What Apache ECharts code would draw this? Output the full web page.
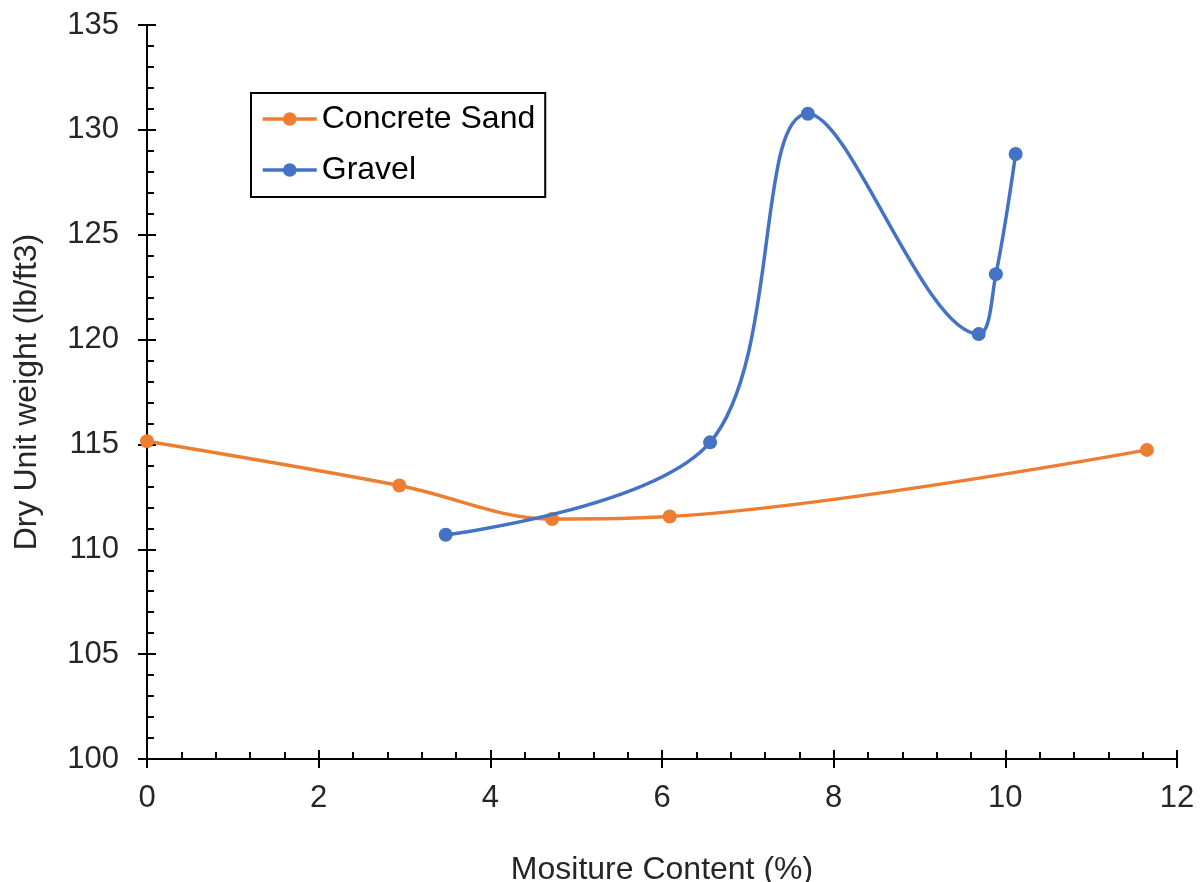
<!DOCTYPE html>
<html>
<head>
<meta charset="utf-8">
<script src="https://cdn.jsdelivr.net/npm/echarts@6/dist/echarts.min.js"></script>
<style>
  html, body { margin: 0; padding: 0; background: #ffffff; }
  #chart { width: 1203px; height: 882px; }
</style>
</head>
<body>
<div id="chart"></div>
<script>
// Compaction test results: moisture content (%) vs dry unit weight (lb/ft3)
const sandMoisture = [0, 2.94, 4.72, 6.09, 11.65];
const sandDryWeight = [115.15, 113.04, 111.44, 111.56, 114.74];

const gravelMoisture = [3.48, 6.56, 7.70, 9.69, 9.89, 10.12];
const gravelDryWeight = [110.69, 115.10, 130.77, 120.26, 123.12, 128.85];

const seriesNames = ['Concrete Sand', 'Gravel'];
const xTitle = 'Mositure Content (%)';
const yTitle = 'Dry Unit weight (lb/ft3)';

const FONT = "'Liberation Sans', Arial, sans-serif";
const TEXT = '#262626';
const AXIS = '#000000';

function pairs(xs, ys) {
  return xs.map((x, i) => [x, ys[i]]);
}

// Inner half of the crossing tick marks plus the minor ticks
function mainAxis(extra) {
  return Object.assign({
    type: 'value',
    axisLine: { show: true, lineStyle: { color: AXIS, width: 2 } },
    axisTick: { show: true, inside: true, length: 9, lineStyle: { color: AXIS, width: 2 } },
    minorTick: { show: true, splitNumber: 5, length: 7, lineStyle: { color: AXIS, width: 2 } },
    splitLine: { show: false },
    nameLocation: 'middle',
    nameTextStyle: { color: TEXT, fontFamily: FONT, fontSize: 32 }
  }, extra);
}

// Outer half of the crossing major ticks
function tickAxis(extra) {
  return Object.assign({
    type: 'value',
    axisLine: { show: false },
    axisTick: { show: true, inside: false, length: 9, lineStyle: { color: AXIS, width: 2 } },
    minorTick: { show: false },
    splitLine: { show: false },
    axisLabel: { show: false }
  }, extra);
}

const chart = echarts.init(document.getElementById('chart'), null, { renderer: 'canvas' });

chart.setOption({
  backgroundColor: '#ffffff',
  animation: false,
  grid: {
    left: 147, right: 26, top: 25, bottom: 123,
    containLabel: false,
    outerBoundsMode: 'none'
  },
  xAxis: [
    mainAxis({
      min: 0, max: 12, interval: 2, position: 'bottom',
      name: xTitle, nameGap: 95,
      axisLabel: { color: TEXT, fontFamily: FONT, fontSize: 31, margin: 24 }
    }),
    tickAxis({ min: 0, max: 12, interval: 2, position: 'bottom' })
  ],
  yAxis: [
    mainAxis({
      min: 100, max: 135, interval: 5, position: 'left',
      name: yTitle, nameGap: 104, nameRotate: 90,
      axisLabel: { color: TEXT, fontFamily: FONT, fontSize: 31, margin: 28 }
    }),
    tickAxis({ min: 100, max: 135, interval: 5, position: 'left' })
  ],
  legend: {
    orient: 'vertical',
    left: 251,
    top: 93,
    padding: [10, 10, 11, 10],
    itemGap: 19,
    itemWidth: 54,
    itemHeight: 17,
    borderColor: '#000000',
    borderWidth: 2,
    borderRadius: 0,
    backgroundColor: '#ffffff',
    lineStyle: { width: 3.5 },
    textStyle: { color: '#000000', fontFamily: FONT, fontSize: 32 },
    data: seriesNames
  },
  series: [
    {
      name: seriesNames[0],
      type: 'line',
      xAxisIndex: 0,
      yAxisIndex: 0,
      data: pairs(sandMoisture, sandDryWeight),
      smooth: 0.35,
      symbol: 'circle',
      symbolSize: 14,
      lineStyle: { color: '#ED7D31', width: 3.5 },
      itemStyle: { color: '#ED7D31' },
      z: 3
    },
    {
      name: seriesNames[1],
      type: 'line',
      xAxisIndex: 0,
      yAxisIndex: 0,
      data: pairs(gravelMoisture, gravelDryWeight),
      smooth: 0.35,
      symbol: 'circle',
      symbolSize: 14,
      lineStyle: { color: '#4472C4', width: 3.5 },
      itemStyle: { color: '#4472C4' },
      z: 4
    }
  ]
});
</script>
</body>
</html>
